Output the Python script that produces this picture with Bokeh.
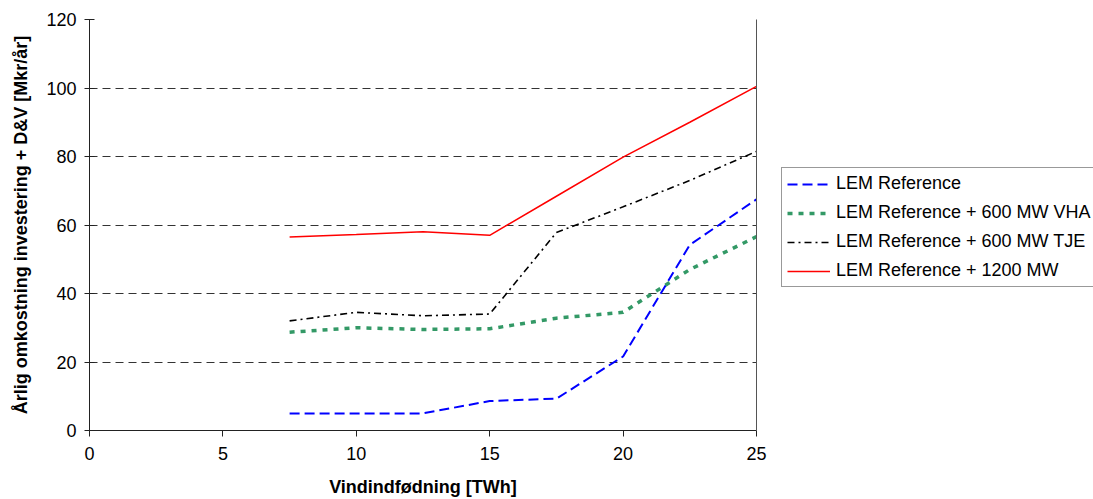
from bokeh.plotting import figure
from bokeh.models import Range1d, LinearAxis, Legend, LegendItem, FixedTicker
from bokeh.layouts import row
from bokeh.embed import file_html
from bokeh.resources import INLINE

x = [7.5, 10, 12.5, 15, 17.5, 20, 22.5, 25]
lem_ref = [5, 5, 5, 8.6, 9.3, 21.6, 54.2, 67.5]
lem_vha = [28.7, 30.0, 29.5, 29.7, 32.8, 34.5, 47.0, 56.6]
lem_tje = [32.0, 34.5, 33.5, 34.0, 57.8, 65.3, 73.0, 81.5]
lem_1200 = [56.5, 57.2, 58.0, 57.0, 68.4, 79.8, 90.0, 100.5]

labels = ["LEM Reference", "LEM Reference + 600 MW VHA",
          "LEM Reference + 600 MW TJE", "LEM Reference + 1200 MW"]
x_ticks = [0, 5, 10, 15, 20, 25]
y_ticks = [0, 20, 40, 60, 80, 100, 120]

FONT = "Liberation Sans"

styles = [
    dict(line_color="#0000FF", line_width=2, line_dash="10 5"),
    dict(line_color="#339966", line_width=3.5, line_dash="5 6"),
    dict(line_color="black", line_width=1.6, line_dash="7 4 2 4"),
    dict(line_color="#FF0000", line_width=1.5),
]
series = [lem_ref, lem_vha, lem_tje, lem_1200]

p = figure(width=770, height=499, output_backend="svg", toolbar_location=None,
           x_range=Range1d(0, 25), y_range=Range1d(0, 120),
           min_border_left=89, min_border_right=14, min_border_top=19,
           min_border_bottom=68)
p.background_fill_color = "white"
p.border_fill_color = "white"
p.outline_line_color = None

for ys, st in zip(series, styles):
    p.line(x, ys, **st)

p.xgrid.visible = False
p.ygrid.ticker = FixedTicker(ticks=y_ticks)
p.ygrid.grid_line_color = "#333333"
p.ygrid.grid_line_dash = "8 5"
p.ygrid.grid_line_width = 1

p.xaxis.ticker = FixedTicker(ticks=x_ticks)
p.yaxis.ticker = FixedTicker(ticks=y_ticks)
for ax in (p.xaxis[0], p.yaxis[0]):
    ax.axis_line_color = "#222222"
    ax.major_tick_line_color = "#222222"
    ax.minor_tick_line_color = None
    ax.major_label_text_font = FONT
    ax.major_label_text_font_size = "18px"
    ax.major_label_text_color = "black"
    ax.axis_label_text_font = FONT
    ax.axis_label_text_font_size = "18px"
    ax.axis_label_text_font_style = "bold"
    ax.axis_label_text_color = "black"

p.xaxis.axis_label = "Vindindfødning [TWh]"
p.xaxis.major_tick_in = 0
p.xaxis.major_tick_out = 6
p.xaxis.major_label_standoff = 10
p.xaxis.axis_label_standoff = 14

p.yaxis.axis_label = "Årlig omkostning investering + D&V [Mkr/år]"
p.yaxis.major_tick_in = 5
p.yaxis.major_tick_out = 5
p.yaxis.major_label_standoff = 8
p.yaxis.axis_label_standoff = 12

right = LinearAxis(ticker=FixedTicker(ticks=[]), major_label_text_font_size="0px",
                   axis_line_color="#555555", major_tick_line_color=None,
                   minor_tick_line_color=None, major_tick_out=0, major_tick_in=0,
                   major_label_standoff=0)
p.add_layout(right, "right")

# legend panel: an axis-free figure whose renderers reuse the same series but lie
# outside its visible range, so only the legend shows
lg = figure(width=323, height=499, output_backend="svg", toolbar_location=None,
            x_range=Range1d(0, 25), y_range=Range1d(-1001, -1000),
            x_axis_location=None, y_axis_location=None,
            min_border_left=0, min_border_right=0, min_border_top=0,
            min_border_bottom=0)
lg.grid.visible = False
lg.outline_line_color = None
lg.background_fill_color = "white"
lg.border_fill_color = "white"

items = []
for lab, ys, st in zip(labels, series, styles):
    r = lg.line(x, ys, **st)
    items.append(LegendItem(label=lab, renderers=[r]))

legend = Legend(items=items, location=(11, 143))
legend.label_text_font = FONT
legend.label_text_font_size = "18px"
legend.label_text_color = "black"
legend.border_line_color = "#333333"
legend.border_line_width = 1
legend.background_fill_color = "white"
legend.background_fill_alpha = 1
legend.padding = 5
legend.spacing = 8
legend.label_height = 20
legend.glyph_height = 20
legend.glyph_width = 43
legend.label_standoff = 6
legend.margin = 0
lg.add_layout(legend, "center")

layout = row(p, lg, spacing=0)
open("out.html", "w").write(file_html(layout, INLINE))
